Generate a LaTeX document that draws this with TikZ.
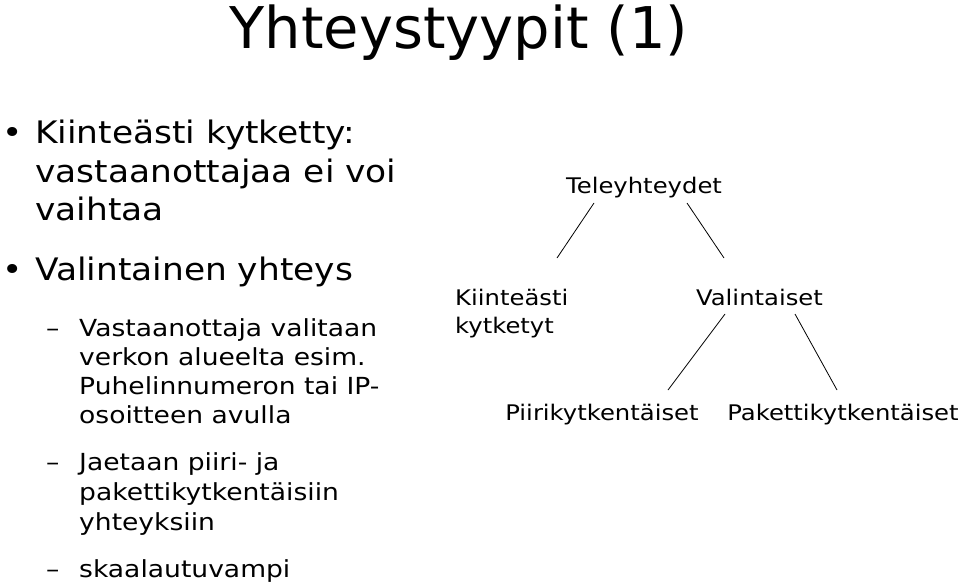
\documentclass[tikz,border=0pt]{standalone}
\usepackage{fontspec}
\setmainfont{DejaVu Sans}
\newfontfamily\widefont{DejaVu Sans}[FakeStretch=1.11]
\newfontfamily\widerfont{DejaVu Sans}[FakeStretch=1.13]
\begin{document}
\begin{tikzpicture}[x=1pt,y=-1pt,
  title/.style={anchor=base,inner sep=0pt,font=\fontsize{57.5}{70}\selectfont},
  lvlone/.style={anchor=base west,inner sep=0pt,font=\widefont\fontsize{31}{38}\selectfont},
  lvltwo/.style={anchor=base west,inner sep=0pt,font=\widerfont\fontsize{23.5}{29}\selectfont},
  treetxt/.style={anchor=base west,inner sep=0pt,font=\widerfont\fontsize{21.5}{28}\selectfont},
  conn/.style={draw=black,line width=0.8pt}]
\useasboundingbox (0,0) rectangle (960,584);
\fill[white] (0,0) rectangle (960,584);
% title
\node[title] (ttl) at (459,48) {Yhteystyypit (1)};
% level one bullets
\node[lvlone] (b1) at (2,143) {•};
\node[lvlone] (l1a) at (35,143) {Kiinteästi kytketty:};
\node[lvlone] (l1b) at (35,182) {vastaanottajaa ei voi};
\node[lvlone] (l1c) at (35,220) {vaihtaa};
\node[lvlone] (b2) at (2,280) {•};
\node[lvlone] (l2a) at (35,280) {Valintainen yhteys};
% level two
\node[lvltwo] (d1) at (46,336) {–};
\node[lvltwo] (s1a) at (79,336) {Vastaanottaja valitaan};
\node[lvltwo] (s1b) at (79,365) {verkon alueelta esim.};
\node[lvltwo] (s1c) at (79,394) {Puhelinnumeron tai IP-};
\node[lvltwo] (s1d) at (79,423) {osoitteen avulla};
\node[lvltwo] (d2) at (46,470) {–};
\node[lvltwo] (s2a) at (79,470) {Jaetaan piiri- ja};
\node[lvltwo] (s2b) at (79,500) {pakettikytkentäisiin};
\node[lvltwo] (s2c) at (79,530) {yhteyksiin};
\node[lvltwo] (d3) at (46,577) {–};
\node[lvltwo] (s3a) at (79,577) {skaalautuvampi};
% tree
\node[treetxt,anchor=base] (tel) at (644,193) {Teleyhteydet};
\node[treetxt] (kiin) at (455,305) {Kiinteästi};
\node[treetxt] (kiin2) at (455,333) {kytketyt};
\node[treetxt,anchor=base] (val) at (759.5,305) {Valintaiset};
\node[treetxt,anchor=base] (piiri) at (602,420) {Piirikytkentäiset};
\node[treetxt,anchor=base] (paketti) at (843,420) {Pakettikytkentäiset};
\coordinate (t1) at (594,203);
\coordinate (t2) at (557,258);
\coordinate (t3) at (687,203);
\coordinate (t4) at (724,258);
\coordinate (v1) at (725,314);
\coordinate (v2) at (668,390);
\coordinate (v3) at (795,314);
\coordinate (v4) at (837,390);
\draw[conn] (t1) -- (t2);
\draw[conn] (t3) -- (t4);
\draw[conn] (v1) -- (v2);
\draw[conn] (v3) -- (v4);
\end{tikzpicture}
\end{document}
